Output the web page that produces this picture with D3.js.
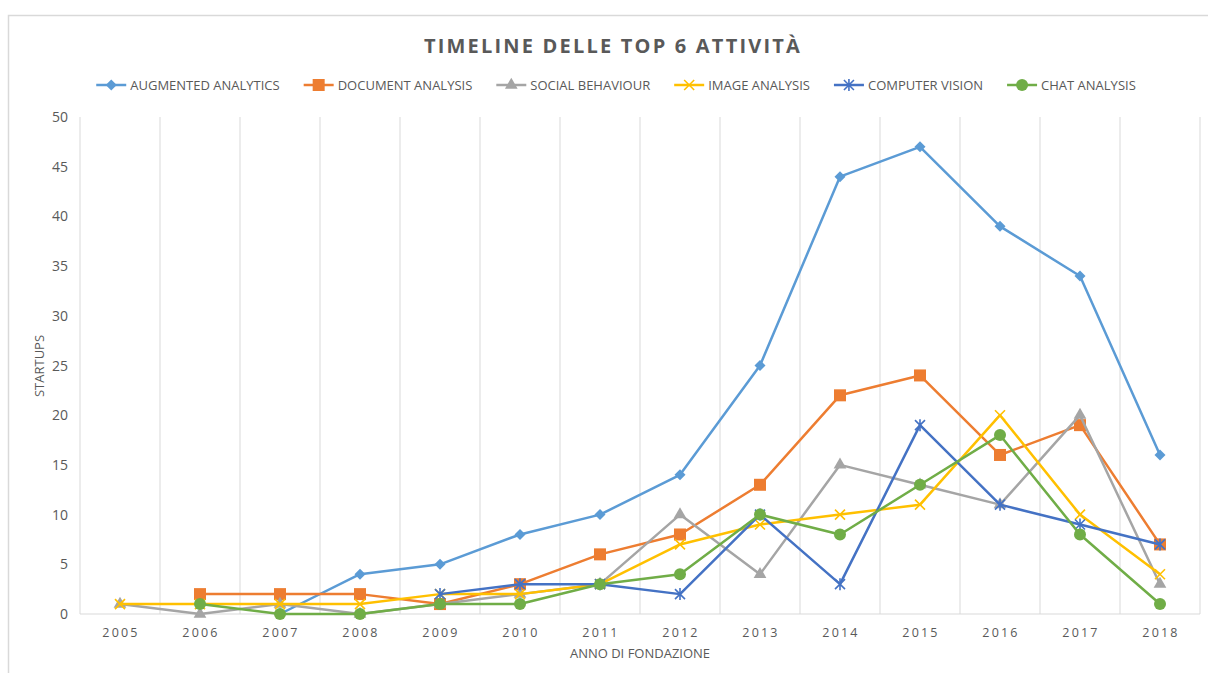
<!DOCTYPE html>
<html>
<head>
<meta charset="utf-8">
<script src="https://cdn.jsdelivr.net/npm/d3@7"></script>
<style>
  body { margin: 0; background: #fff; }
  text { font-family: "Open Sans", sans-serif; }
</style>
</head>
<body>
<div id="chart"></div>
<script>
const years = ["2005","2006","2007","2008","2009","2010","2011","2012","2013","2014","2015","2016","2017","2018"];
const yTicks = [0,5,10,15,20,25,30,35,40,45,50];

const augmented = [null,null,0,4,5,8,10,14,25,44,47,39,34,16];
const documentA = [null,2,2,2,1,3,6,8,13,22,24,16,19,7];
const social    = [1,0,1,0,1,2,3,10,4,15,13,11,20,3];
const imageA    = [1,1,1,1,2,2,3,7,9,10,11,20,10,4];
const vision    = [null,null,null,null,2,3,3,2,10,3,19,11,9,7];
const chat      = [null,1,0,0,1,1,3,4,10,8,13,18,8,1];

const seriesNames = ["AUGMENTED ANALYTICS","DOCUMENT ANALYSIS","SOCIAL BEHAVIOUR","IMAGE ANALYSIS","COMPUTER VISION","CHAT ANALYSIS"];
const seriesValues = [augmented, documentA, social, imageA, vision, chat];
const colors = ["#5B9BD5","#ED7D31","#A5A5A5","#FFC000","#4472C4","#70AD47"];
const markers = ["diamond","square","triangle","x","star","circle"];

const width = 1208, height = 673;
const svg = d3.select("#chart").append("svg")
       .attr("width", width)
       .attr("height", height);

// outer chart border
svg.append("rect")
       .attr("x", 8.5).attr("y", 15.5)
       .attr("width", 1220).attr("height", 700)
       .attr("fill", "none")
       .attr("stroke", "#D9D9D9")
       .attr("stroke-width", 1.5);

const x = d3.scaleBand().domain(years).range([80, 1200]).padding(0);
const y = d3.scaleLinear().domain([0, 50]).range([614, 117]);
const cx = d => x(d) + x.bandwidth() / 2;

// vertical gridlines at category edges
const edges = years.map(d => x(d) + x.bandwidth());
svg.selectAll(".grid")
       .data(edges)
       .enter()
       .append("line")
       .attr("class", "grid")
       .attr("x1", d => d).attr("x2", d => d)
       .attr("y1", y(50)).attr("y2", y(0))
       .attr("stroke", "#D9D9D9")
       .attr("stroke-width", 1);

// axes lines
svg.append("line")
       .attr("x1", 80).attr("x2", 80)
       .attr("y1", y(50)).attr("y2", y(0))
       .attr("stroke", "#D9D9D9");
svg.append("line")
       .attr("x1", 80).attr("x2", 1200)
       .attr("y1", y(0)).attr("y2", y(0))
       .attr("stroke", "#D9D9D9");

// y tick labels
svg.selectAll(".ytick")
       .data(yTicks)
       .enter()
       .append("text")
       .attr("class", "ytick")
       .attr("x", 68)
       .attr("y", d => y(d) + 5)
       .attr("text-anchor", "end")
       .style("font-size", "14px")
       .style("fill", "#595959")
       .text(d => d);

// x tick labels
svg.selectAll(".xtick")
       .data(years)
       .enter()
       .append("text")
       .attr("class", "xtick")
       .attr("x", d => cx(d) + 1)
       .attr("y", 637)
       .attr("text-anchor", "middle")
       .style("font-size", "12.5px")
       .style("letter-spacing", "2.2px")
       .style("fill", "#595959")
       .text(d => d);

// axis titles
svg.append("text")
       .attr("x", 640).attr("y", 658)
       .attr("text-anchor", "middle")
       .style("font-size", "13px")
       .style("fill", "#595959")
       .text("ANNO DI FONDAZIONE");

svg.append("text")
       .attr("transform", "translate(44, 366) rotate(-90)")
       .attr("text-anchor", "middle")
       .style("font-size", "13px")
       .style("fill", "#595959")
       .text("STARTUPS");

// title
svg.append("text")
       .attr("x", 613).attr("y", 53)
       .attr("text-anchor", "middle")
       .style("font-weight", "bold")
       .style("font-size", "20px")
       .style("letter-spacing", "2.2px")
       .style("fill", "#595959")
       .text("TIMELINE  DELLE  TOP  6  ATTIVITÀ");

// marker drawing
function drawMarker(g, type, color) {
       if (type === "diamond") {
              g.append("path").attr("d", "M0,-5.5L5.5,0L0,5.5L-5.5,0Z").attr("fill", color);
       } else if (type === "square") {
              g.append("rect").attr("x", -6).attr("y", -6).attr("width", 12).attr("height", 12).attr("fill", color);
       } else if (type === "triangle") {
              g.append("path").attr("d", d3.symbol(d3.symbolTriangle, 70)()).attr("fill", color);
       } else if (type === "x") {
              g.append("path").attr("d", "M-5,-5L5,5M-5,5L5,-5")
                     .attr("stroke", color).attr("stroke-width", 1.6).attr("fill", "none");
       } else if (type === "star") {
              g.append("path").attr("d", "M-5,-5L5,5M-5,5L5,-5M0,-6L0,6")
                     .attr("stroke", color).attr("stroke-width", 1.6).attr("fill", "none");
       } else if (type === "circle") {
              g.append("circle").attr("r", 6).attr("fill", color);
       }
}

const line = d3.line()
       .defined(d => d.v !== null)
       .x(d => cx(d.year))
       .y(d => y(d.v));

seriesValues.forEach((vals, i) => {
       const pts = years.map((yr, j) => ({ year: yr, v: vals[j] }));
       svg.append("path")
              .datum(pts)
              .attr("d", line)
              .attr("fill", "none")
              .attr("stroke", colors[i])
              .attr("stroke-width", 2.5)
              .attr("stroke-linejoin", "round");
       svg.selectAll(".m" + i)
              .data(pts.filter(d => d.v !== null))
              .enter()
              .append("g")
              .attr("class", "m" + i)
              .attr("transform", d => `translate(${cx(d.year)}, ${y(d.v)})`)
              .each(function () { drawMarker(d3.select(this), markers[i], colors[i]); });
});

// legend
const legend = svg.append("g");
let lx = 0;
seriesNames.forEach((name, i) => {
       const item = legend.append("g").attr("transform", `translate(${lx}, 0)`);
       item.append("line")
              .attr("x1", 0).attr("x2", 30)
              .attr("y1", 0).attr("y2", 0)
              .attr("stroke", colors[i])
              .attr("stroke-width", 2.5);
       const mk = item.append("g").attr("transform", "translate(15, 0)");
       drawMarker(mk, markers[i], colors[i]);
       const t = item.append("text")
              .attr("x", 34).attr("y", 4.5)
              .style("font-size", "13px")
              .style("fill", "#595959")
              .text(name);
       lx += 34 + t.node().getComputedTextLength() + 24;
});
const legendW = lx - 24;
legend.attr("transform", `translate(${616 - legendW / 2}, 85)`);
</script>
</body>
</html>
